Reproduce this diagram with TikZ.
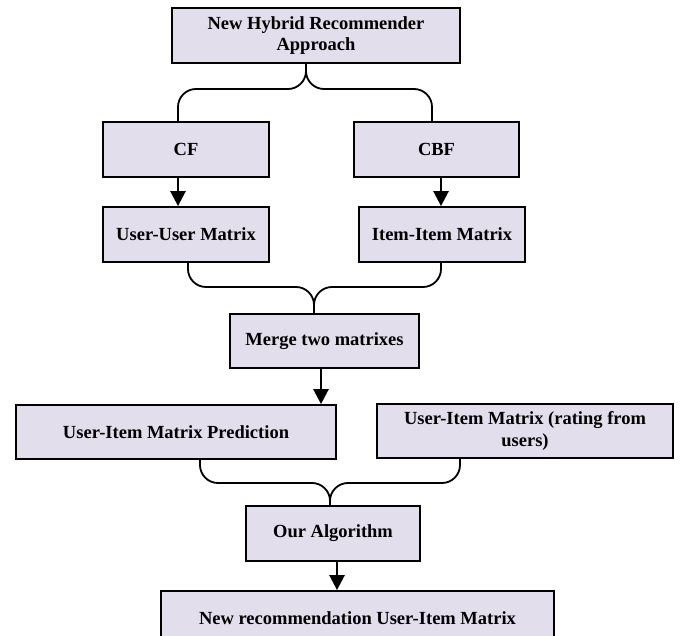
\documentclass[tikz,border=0pt]{standalone}
\usepackage{fontspec}
\setmainfont{Liberation Serif}
\usetikzlibrary{arrows.meta,calc}
\definecolor{boxfill}{RGB}{227,222,235}
\begin{document}
\begin{tikzpicture}[x=1pt,y=-1pt,
  box/.style={draw=black, line width=1.8pt, fill=boxfill, inner sep=0pt,
    align=center, font=\fontsize{18.5}{21.6}\selectfont\bfseries},
  flow/.style={line width=2.6pt, -{Triangle[width=15pt,length=15pt]}},
  brace/.style={line width=1.8pt, rounded corners=18pt}]
\useasboundingbox (0,0) rectangle (680,636);
\clip (0,0) rectangle (680,636);

% boxes
\node[box, minimum width=288pt, minimum height=55pt] (top) at (316,35.5)
  {New Hybrid Recommender\\Approach};
\node[box, minimum width=166pt, minimum height=55pt] (cf) at (186,149.5) {CF};
\node[box, minimum width=165pt, minimum height=55pt] (cbf) at (436.5,149.5) {CBF};
\node[box, minimum width=166pt, minimum height=55pt] (uu) at (186,234.5) {User-User Matrix};
\node[box, minimum width=166pt, minimum height=55pt] (ii) at (442,234.5) {Item-Item Matrix};
\node[box, minimum width=189pt, minimum height=54pt] (merge) at (324.5,341) {Merge two matrixes};
\node[box, minimum width=320pt, minimum height=54pt] (pred) at (176,432) {User-Item Matrix Prediction};
\node[box, minimum width=296pt, minimum height=54pt] (rating) at (525,431)
  {User-Item Matrix (rating from\\users)};
\node[box, minimum width=174pt, minimum height=55pt] (algo) at (333,533.5) {Our Algorithm};
\node[box, minimum width=393pt, minimum height=55pt] (rec) at (357.5,618.5)
  {New recommendation User-Item Matrix};

% brace junctions
\coordinate (j1) at (306,89);
\coordinate (j2) at (314,287);
\coordinate (j3) at (330,483);

% split into CF and CBF
\draw[brace] (top.south -| j1) -- (j1) -| ([xshift=-8pt]cf.north);
\draw[brace] (top.south -| j1) -- (j1) -| ([xshift=-4.5pt]cbf.north);

% join of the two matrices
\draw[brace] ([xshift=2pt]uu.south) |- (j2) -- (merge.north -| j2);
\draw[brace] ([xshift=-1pt]ii.south) |- (j2) -- (merge.north -| j2);

% join of prediction and ratings
\draw[brace] ([xshift=24pt]pred.south) |- (j3) -- (algo.north -| j3);
\draw[brace] ([xshift=-65pt]rating.south) |- (j3) -- (algo.north -| j3);

% arrows
\coordinate (c1) at ([xshift=-8pt]cf.south);
\draw[flow] (c1) -- (c1 |- uu.north);
\coordinate (c2) at ([xshift=4.5pt]cbf.south);
\draw[flow] (c2) -- (c2 |- ii.north);
\coordinate (m1) at ([xshift=-3.5pt]merge.south);
\draw[flow] (m1) -- (m1 |- pred.north);
\coordinate (a1) at ([xshift=4pt]algo.south);
\draw[flow] (a1) -- (a1 |- rec.north);
\end{tikzpicture}
\end{document}
